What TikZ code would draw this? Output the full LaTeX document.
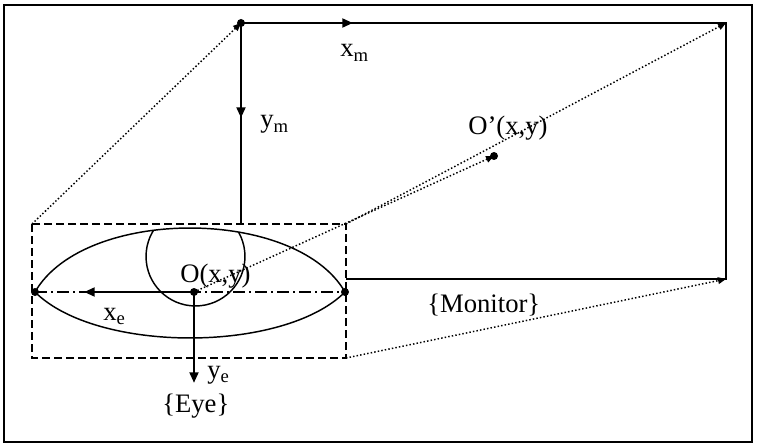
\documentclass[tikz,border=0pt]{standalone}
\usepackage{fontspec}
\setmainfont{Liberation Serif}
\usetikzlibrary{arrows.meta}
\begin{document}
\begin{tikzpicture}[x=0.75pt,y=0.75pt,
  lbl/.style={font=\fontsize{20}{24}\selectfont, inner sep=0pt, anchor=base west},
  thin/.style={line width=1.1pt},
  thickarrow/.style={line width=2pt, -{Triangle[length=8pt,width=6.5pt]}},
  dotline/.style={line width=1.1pt, dash pattern=on 1.1pt off 1.6pt, -{Triangle[length=6pt,width=5pt]}},
  dashdot/.style={line width=1.1pt, dash pattern=on 9pt off 3pt on 1.5pt off 3pt},
  dot/.style={circle, fill=black, inner sep=0pt, minimum size=6pt}]
\useasboundingbox (0,0) rectangle (757,447);
% outer frame
\draw[line width=1.9pt] (4,5) rectangle (752,442);
% key points
\coordinate (M0) at (241,424);
\coordinate (MTR) at (726,424);
\coordinate (MBR) at (726,168);
\coordinate (Mx) at (353,424);
\coordinate (My) at (241,329);
\coordinate (Mlb) at (241,223);
\coordinate (BTL) at (32,223);
\coordinate (BTR) at (346,223);
\coordinate (BBR) at (346,89);
\coordinate (MBL) at (346,168);
\coordinate (E1) at (35,155);
\coordinate (E2) at (345,155);
\coordinate (O) at (194,155);
\coordinate (Op) at (494,291);
\coordinate (Xe) at (84,155);
\coordinate (Ye) at (194,64);
% monitor
\draw[thin] (M0) -- (MTR) -- (MBR) -- (MBL);
\draw[thin] (M0) -- (Mlb);
\draw[thickarrow] (M0) -- (Mx);
\draw[thickarrow] (M0) -- (My);
% dashed box
\draw[line width=1.1pt, dash pattern=on 6pt off 3pt] (BTL) rectangle (BBR);
% eye outline
\def\eyepath{(E1) .. controls (84,240.3) and (296,240.3) .. (E2)
  .. controls (283.7,93.7) and (96.3,93.7) .. (E1)}
\draw[thin] \eyepath -- cycle;
\begin{scope}
\clip \eyepath -- cycle;
\draw[thin] (195.5,190.5) circle[radius=37.1pt];
\end{scope}
% axis line through eye
\draw[dashdot] (E1) -- (E2);
\draw[thickarrow] (O) -- (Xe);
\draw[thickarrow] (O) -- (Ye);
% dotted projections
\draw[dotline] (BTL) -- (M0);
\draw[dotline] (BTR) -- (MTR);
\draw[dotline] (BBR) -- (MBR);
\draw[dotline] (O) -- (Op);
% dots
\node[dot] (dM0) at (M0) {};
\node[dot] (dE1) at (E1) {};
\node[dot] (dE2) at (E2) {};
\node[dot] (dO) at (O) {};
\node[dot] (dOp) at (Op) {};
% labels
\node[lbl] (lxm) at (340,390) {x\textsubscript{m}};
\node[lbl] (lym) at (260,319) {y\textsubscript{m}};
\node[lbl] (lOp) at (468,312) {O’(x,y)};
\node[lbl] (lO) at (180,165) {O(x,y)};
\node[lbl] (lxe) at (103,127) {x\textsubscript{e}};
\node[lbl] (lye) at (207,69) {y\textsubscript{e}};
\node[lbl] (lEye) at (162,35) {\{Eye\}};
\node[lbl] (lMon) at (427,135) {\{Monitor\}};
\end{tikzpicture}
\end{document}
